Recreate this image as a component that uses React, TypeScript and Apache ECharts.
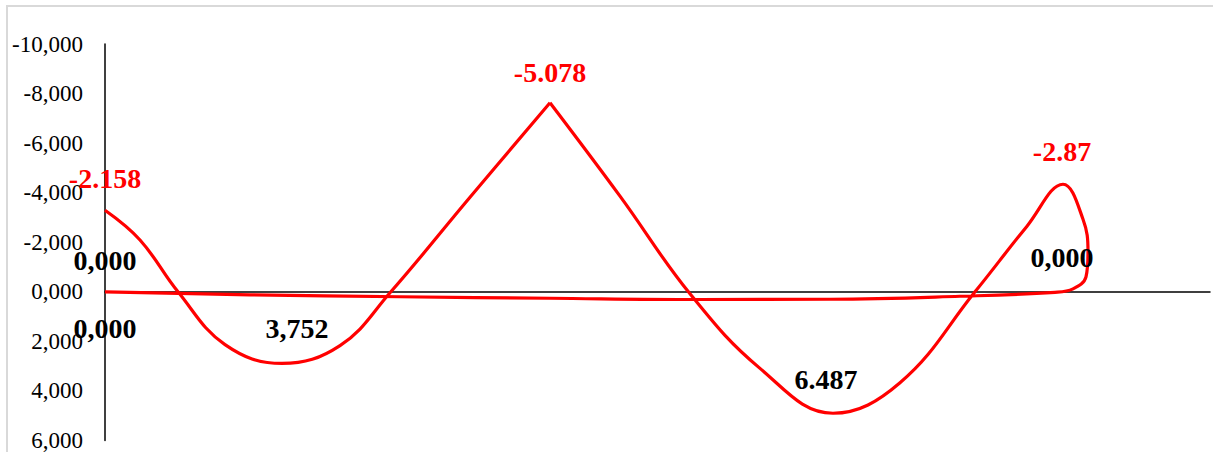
import React, { useEffect, useRef } from "react";
import * as echarts from "echarts";

// Moment diagram: x = position along the beam, y = moment
const spanOneX = [0, 0.7, 1.46, 2.4, 3.54, 4.7, 5.7, 7.3, 8.9];
const spanOneM = [-3290, -2090, 0, 2130, 2890, 2170, 40, -3815, -7630];

const spanTwoX = [8.9, 10.3, 11.7, 13.1, 14.56, 15.9, 17.4, 18.44, 19.16, 19.56, 19.66, 19.62, 19.36, 19.0, 17.1, 14.5, 11.9, 8.9, 5.9, 2.9, 0];
const spanTwoM = [-7630, -3860, 80, 3090, 4900, 3670, 0, -2650, -4340, -2930, -1605, -600, -120, 20, 180, 300, 310, 260, 200, 120, 0];

const labelTexts = ["-2.158", "0,000", "0,000", "3,752", "-5.078", "6.487", "-2.87", "0,000"];
const labelX = [0, 0, 0, 3.84, 8.9, 14.42, 19.14, 19.14];
const labelM = [-4578, -1245, 1486, 1486, -8835, 3534, -5663, -1365];
const labelColors = ["#ff0000", "#000000", "#000000", "#000000", "#ff0000", "#000000", "#ff0000", "#000000"];

const yTicksMin = -10000;
const yTicksMax = 6000;
const yTickStep = 2000;

const zip = (xs: number[], ys: number[]) => xs.map((x, i) => [x, ys[i]]);

export default function App() {
  const ref = useRef<HTMLDivElement>(null);

  useEffect(() => {
    if (!ref.current) return;
    const chart = echarts.init(ref.current, undefined, { renderer: "svg" });
    const lineStyle = { color: "#ff0000", width: 3.2 };
    chart.setOption({
      animation: false,
      grid: { left: 105, top: 44, right: 3, bottom: 9.6, containLabel: false },
      xAxis: {
        type: "value",
        min: 0,
        max: 22.1,
        axisLine: { show: true, onZero: true, lineStyle: { color: "#000", width: 1.5 } },
        axisTick: { show: false },
        axisLabel: { show: false },
        splitLine: { show: false },
      },
      yAxis: {
        type: "value",
        inverse: true,
        min: yTicksMin,
        max: yTicksMax,
        interval: yTickStep,
        axisLine: { show: true, onZero: false, lineStyle: { color: "#000", width: 1.5 } },
        axisTick: { show: false },
        splitLine: { show: false },
        axisLabel: {
          margin: 22,
          fontFamily: "Liberation Serif",
          fontSize: 23,
          color: "#000",
          formatter: (v: number) => (v / 1000).toFixed(3).replace(".", ","),
        },
      },
      series: [
        {
          type: "line",
          data: zip(spanOneX, spanOneM),
          smooth: 0.4,
          showSymbol: false,
          lineStyle,
          z: 3,
        },
        {
          type: "line",
          data: zip(spanTwoX, spanTwoM),
          smooth: 0.4,
          showSymbol: false,
          lineStyle,
          z: 3,
        },
        {
          type: "scatter",
          symbolSize: 1,
          itemStyle: { color: "transparent", opacity: 1 },
          z: 5,
          data: labelTexts.map((t, i) => ({
            value: [labelX[i], labelM[i]],
            label: {
              show: true,
              position: "inside",
              formatter: t,
              color: labelColors[i],
              opacity: 1,
              textBorderWidth: 0,
              fontFamily: "Liberation Serif",
              fontWeight: "bold",
              fontSize: 28,
            },
          })),
        },
      ],
    });
    return () => chart.dispose();
  }, []);

  return (
    <div style={{ position: "absolute", left: 0, top: 0, width: 1213, height: 452, overflow: "hidden", background: "#fff" }}>
      <div
        style={{
          position: "absolute",
          left: 6,
          top: 5,
          width: 1300,
          height: 500,
          borderLeft: "2px solid #d9d9d9",
          borderTop: "2px solid #d9d9d9",
        }}
      />
      <div ref={ref} style={{ position: "absolute", left: 0, top: 0, width: 1213, height: 452 }} />
    </div>
  );
}
